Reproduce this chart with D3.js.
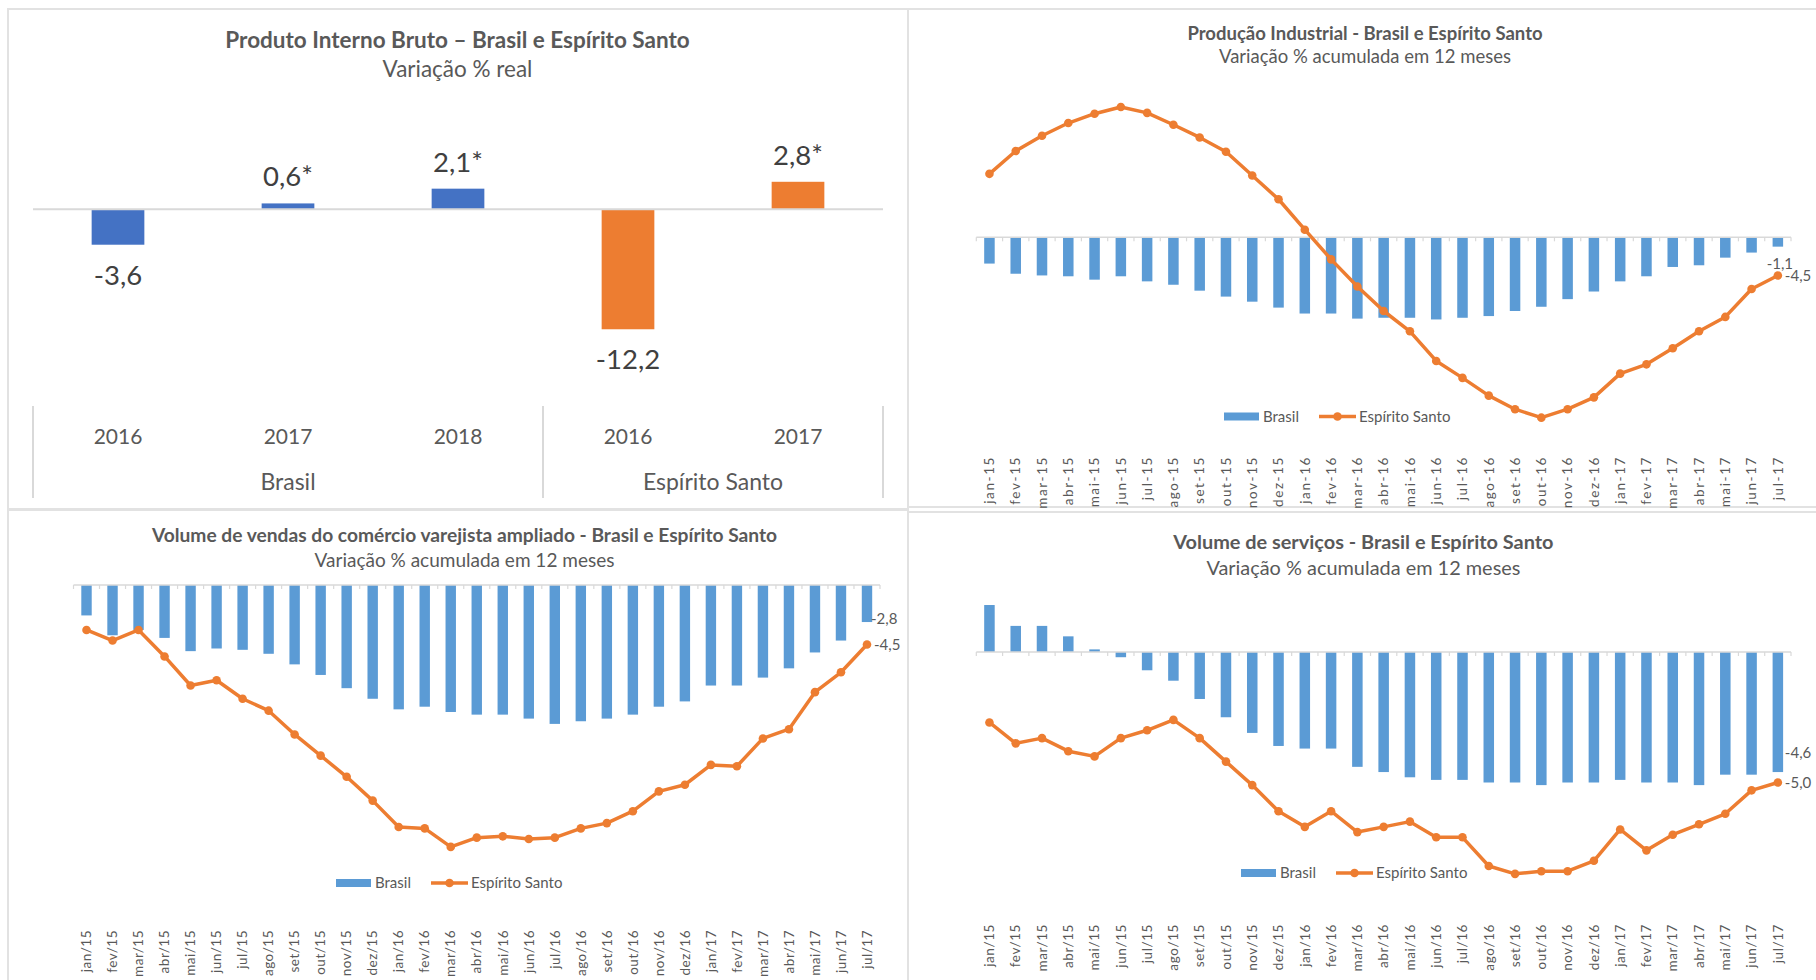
<!DOCTYPE html>
<html>
<head>
<meta charset="utf-8">
<script src="https://cdn.jsdelivr.net/npm/d3@7"></script>
<style>
  body { margin: 0; background: #fff; }
  text { font-family: Lato, "Open Sans", sans-serif; fill: #595959; }
</style>
</head>
<body>
<script>
// PIB - variação % real
var pibAnos = ["2016", "2017", "2018", "2016", "2017"];
var pibGrupos = ["Brasil", "Espírito Santo"];
var pibGrupoDe = ["Brasil", "Brasil", "Brasil", "Espírito Santo", "Espírito Santo"];
var pibValores = [-3.6, 0.6, 2.1, -12.2, 2.8];
var pibRotulos = ["-3,6", "0,6*", "2,1*", "-12,2", "2,8*"];

// meses (rótulos do eixo)
var mesesHifen = ["jan-15","fev-15","mar-15","abr-15","mai-15","jun-15","jul-15","ago-15","set-15","out-15","nov-15","dez-15",
  "jan-16","fev-16","mar-16","abr-16","mai-16","jun-16","jul-16","ago-16","set-16","out-16","nov-16","dez-16",
  "jan-17","fev-17","mar-17","abr-17","mai-17","jun-17","jul-17"];
var mesesBarra = ["jan/15","fev/15","mar/15","abr/15","mai/15","jun/15","jul/15","ago/15","set/15","out/15","nov/15","dez/15",
  "jan/16","fev/16","mar/16","abr/16","mai/16","jun/16","jul/16","ago/16","set/16","out/16","nov/16","dez/16",
  "jan/17","fev/17","mar/17","abr/17","mai/17","jun/17","jul/17"];

// Produção industrial - acumulado 12 meses
var indBrasil = [-3.1,-4.3,-4.5,-4.6,-5.0,-4.6,-5.2,-5.6,-6.3,-7.0,-7.6,-8.3,-9.0,-9.0,-9.6,-9.5,-9.5,-9.7,-9.5,-9.3,-8.7,-8.2,-7.3,-6.4,-5.2,-4.6,-3.5,-3.3,-2.4,-1.8,-1.1];
var indES = [7.5,10.2,12.0,13.5,14.6,15.4,14.7,13.3,11.8,10.1,7.3,4.5,0.9,-2.6,-5.8,-8.7,-11.1,-14.6,-16.6,-18.7,-20.3,-21.3,-20.3,-18.9,-16.1,-15.0,-13.1,-11.1,-9.4,-6.1,-4.5];

// Comércio varejista ampliado - acumulado 12 meses
var comBrasil = [-2.3,-3.8,-3.4,-4.0,-5.0,-4.8,-4.9,-5.2,-6.0,-6.8,-7.8,-8.6,-9.4,-9.2,-9.6,-9.8,-9.8,-10.1,-10.5,-10.3,-10.1,-9.8,-9.2,-8.8,-7.6,-7.6,-7.0,-6.3,-5.1,-4.2,-2.8];
var comES = [-3.4,-4.2,-3.4,-5.4,-7.6,-7.2,-8.6,-9.5,-11.3,-12.9,-14.5,-16.3,-18.3,-18.4,-19.8,-19.1,-19.0,-19.2,-19.1,-18.4,-18.0,-17.1,-15.6,-15.1,-13.6,-13.7,-11.6,-10.9,-8.1,-6.6,-4.5];

// Volume de serviços - acumulado 12 meses
var servBrasil = [1.8,1.0,1.0,0.6,0.1,-0.2,-0.7,-1.1,-1.8,-2.5,-3.1,-3.6,-3.7,-3.7,-4.4,-4.6,-4.8,-4.9,-4.9,-5.0,-5.0,-5.1,-5.0,-5.0,-4.9,-5.0,-5.0,-5.1,-4.7,-4.7,-4.6];
var servES = [-2.7,-3.5,-3.3,-3.8,-4.0,-3.3,-3.0,-2.6,-3.3,-4.2,-5.1,-6.1,-6.7,-6.1,-6.9,-6.7,-6.5,-7.1,-7.1,-8.2,-8.5,-8.4,-8.4,-8.0,-6.8,-7.6,-7.0,-6.6,-6.2,-5.3,-5.0];

var W = 1816, H = 980;
var grid = "#d9d9d9";
var azul = "#5b9bd5", laranja = "#ed7d31";

var svg = d3.select("body").append("svg")
  .attr("width", W)
  .attr("height", H);

// panel borders
[[8, 9, 900, 500], [908, 9, 920, 498], [8, 510, 900, 480], [908, 512, 920, 480]].forEach(function(p) {
  svg.append("rect")
    .attr("x", p[0]).attr("y", p[1])
    .attr("width", p[2]).attr("height", p[3])
    .attr("fill", "#fff")
    .attr("stroke", "#e2e2e2")
    .attr("stroke-width", 2);
});

function titulos(cx, y1, y2, t1, t2, s1, s2) {
  svg.append("text")
    .attr("x", cx).attr("y", y1)
    .attr("text-anchor", "middle")
    .style("font-size", s1 + "px")
    .style("font-weight", "bold")
    .text(t1);
  svg.append("text")
    .attr("x", cx).attr("y", y2)
    .attr("text-anchor", "middle")
    .style("font-size", s2 + "px")
    .text(t2);
}

// ---------- PIB ----------
function drawPib() {
  titulos(457.5, 48, 77, "Produto Interno Bruto \u2013 Brasil e Espírito Santo", "Variação % real", 22.5, 22.5);

  var idx = d3.range(pibValores.length);
  var x = d3.scaleBand()
    .domain(idx)
    .range([33, 883])
    .paddingInner(0.69)
    .paddingOuter(0.345);
  var y = d3.scaleLinear()
    .domain([-15, 10])
    .range([356.8, 111]);

  var g = svg.append("g");
  g.selectAll("rect.pib")
    .data(idx)
    .enter()
    .append("rect")
      .attr("class", "pib")
      .attr("x", function(i) { return x(i); })
      .attr("width", x.bandwidth())
      .attr("y", function(i) { return y(Math.max(0, pibValores[i])); })
      .attr("height", function(i) { return Math.abs(y(pibValores[i]) - y(0)); })
      .attr("fill", function(i) { return pibGrupoDe[i] == "Brasil" ? "#4472c4" : laranja; });

  g.append("line")
    .attr("x1", 33).attr("x2", 883)
    .attr("y1", y(0)).attr("y2", y(0))
    .attr("stroke", grid).attr("stroke-width", 2);

  g.selectAll("text.val")
    .data(idx)
    .enter()
    .append("text")
      .attr("class", "val")
      .attr("x", function(i) { return x(i) + x.bandwidth() / 2; })
      .attr("y", function(i) {
        var v = pibValores[i];
        return v >= 0 ? y(v) - 17 : y(v) + 40;
      })
      .attr("text-anchor", "middle")
      .style("font-size", "27.5px")
      .style("fill", "#404040")
      .text(function(i) { return pibRotulos[i]; });

  // multi-level category axis
  var step = x.step();
  var bordas = [33, 33 + step * 3, 883];
  bordas.forEach(function(bx) {
    g.append("line")
      .attr("x1", bx).attr("x2", bx)
      .attr("y1", 406).attr("y2", 498)
      .attr("stroke", grid).attr("stroke-width", 2);
  });
  g.selectAll("text.ano")
    .data(idx)
    .enter()
    .append("text")
      .attr("class", "ano")
      .attr("x", function(i) { return x(i) + x.bandwidth() / 2; })
      .attr("y", 443.5)
      .attr("text-anchor", "middle")
      .style("font-size", "21px")
      .text(function(i) { return pibAnos[i]; });
  g.selectAll("text.grupo")
    .data(pibGrupos)
    .enter()
    .append("text")
      .attr("class", "grupo")
      .attr("x", function(d, i) { return (bordas[i] + bordas[i + 1]) / 2; })
      .attr("y", 490)
      .attr("text-anchor", "middle")
      .style("font-size", "23px")
      .text(function(d) { return d; });
}

// ---------- combo bar + line ----------
function drawCombo(c, cats, brasil, es) {
  titulos(c.tx, c.ty1, c.ty2, c.titulo, "Variação % acumulada em 12 meses", c.ts1, c.ts2);

  var idx = d3.range(cats.length);
  var x = d3.scaleBand()
    .domain(idx)
    .range(c.xr)
    .paddingInner(0.6)
    .paddingOuter(0.3);
  var y = d3.scaleLinear()
    .domain(c.yd)
    .range(c.yr);
  var cx = function(i) { return x(i) + x.bandwidth() / 2; };

  var g = svg.append("g");

  g.selectAll("rect.br")
    .data(idx)
    .enter()
    .append("rect")
      .attr("class", "br")
      .attr("x", function(i) { return x(i); })
      .attr("width", x.bandwidth())
      .attr("y", function(i) { return y(Math.max(0, brasil[i])); })
      .attr("height", function(i) { return Math.abs(y(brasil[i]) - y(0)); })
      .attr("fill", azul);

  // zero axis + tick marks
  g.append("line")
    .attr("x1", c.xr[0]).attr("x2", c.xr[1])
    .attr("y1", y(0)).attr("y2", y(0))
    .attr("stroke", grid).attr("stroke-width", 1.5);
  var step = x.step();
  g.selectAll("line.tk")
    .data(d3.range(cats.length + 1))
    .enter()
    .append("line")
      .attr("class", "tk")
      .attr("x1", function(i) { return c.xr[0] + i * step; })
      .attr("x2", function(i) { return c.xr[0] + i * step; })
      .attr("y1", y(0)).attr("y2", y(0) + 4)
      .attr("stroke", grid).attr("stroke-width", 1.2);

  var line = d3.line()
    .x(function(i) { return cx(i); })
    .y(function(i) { return y(es[i]); });
  g.append("path")
    .datum(idx)
    .attr("d", line)
    .attr("fill", "none")
    .attr("stroke", laranja)
    .attr("stroke-width", 3.5)
    .attr("stroke-linejoin", "round");
  g.selectAll("circle.es")
    .data(idx)
    .enter()
    .append("circle")
      .attr("class", "es")
      .attr("cx", cx)
      .attr("cy", function(i) { return y(es[i]); })
      .attr("r", 4.3)
      .attr("fill", laranja);

  // data labels on the last month
  var n = cats.length - 1;
  g.append("text")
    .attr("x", cx(n) + c.lbx)
    .attr("y", y(brasil[n]) + c.lby)
    .attr("text-anchor", c.lba)
    .style("font-size", "15px")
    .text(d3.format(".1f")(brasil[n]).replace(".", ",").replace("\u2212", "-"));
  g.append("text")
    .attr("x", cx(n) + 7)
    .attr("y", y(es[n]) + 5.5)
    .style("font-size", "15px")
    .text(d3.format(".1f")(es[n]).replace(".", ",").replace("\u2212", "-"));

  // month labels
  g.selectAll("text.mes")
    .data(idx)
    .enter()
    .append("text")
      .attr("class", "mes")
      .attr("transform", function(i) { return "translate(" + cx(i) + "," + c.ly + ") rotate(-90)"; })
      .attr("dy", "0.35em")
      .attr("text-anchor", "end")
      .style("font-size", "13.5px")
      .style("letter-spacing", c.ls + "px")
      .text(function(i) { return cats[i]; });

  // legend
  var lg = g.append("g").attr("transform", "translate(" + c.lgx + "," + c.lgy + ")");
  lg.append("rect")
    .attr("x", 0).attr("y", -4)
    .attr("width", 35).attr("height", 8)
    .attr("fill", azul);
  lg.append("text")
    .attr("x", 39).attr("y", 5)
    .style("font-size", "15px")
    .text("Brasil");
  lg.append("line")
    .attr("x1", 95).attr("x2", 132)
    .attr("y1", 0).attr("y2", 0)
    .attr("stroke", laranja).attr("stroke-width", 3.5);
  lg.append("circle")
    .attr("cx", 113.5).attr("cy", 0)
    .attr("r", 4.3)
    .attr("fill", laranja);
  lg.append("text")
    .attr("x", 135).attr("y", 5)
    .style("font-size", "15px")
    .text("Espírito Santo");
}

drawPib();

drawCombo({
  titulo: "Produção Industrial - Brasil e Espírito Santo",
  tx: 1365, ty1: 40, ty2: 63, ts1: 18.5, ts2: 18.5,
  xr: [976.3, 1791], yd: [-25, 20], yr: [449, 68],
  ly: 456, ls: 1.6, lgx: 1224, lgy: 416.5,
  lbx: 2, lby: 22, lba: "middle"
}, mesesHifen, indBrasil, indES);

drawCombo({
  titulo: "Volume de vendas do comércio varejista ampliado - Brasil e Espírito Santo",
  tx: 464.5, ty1: 542, ty2: 567, ts1: 19.2, ts2: 19,
  xr: [73.5, 880], yd: [-25, 0], yr: [915.7, 585],
  ly: 930, ls: 0.5, lgx: 336, lgy: 883,
  lbx: 4, lby: 1.5, lba: "start"
}, mesesBarra, comBrasil, comES);

drawCombo({
  titulo: "Volume de serviços - Brasil e Espírito Santo",
  tx: 1363.4, ty1: 549, ty2: 575, ts1: 19.9, ts2: 19.9,
  xr: [976.3, 1791], yd: [-12, 4], yr: [965.2, 547.6],
  ly: 924, ls: 0.6, lgx: 1241, lgy: 873,
  lbx: 7, lby: -14, lba: "start"
}, mesesBarra, servBrasil, servES);
</script>
</body>
</html>
